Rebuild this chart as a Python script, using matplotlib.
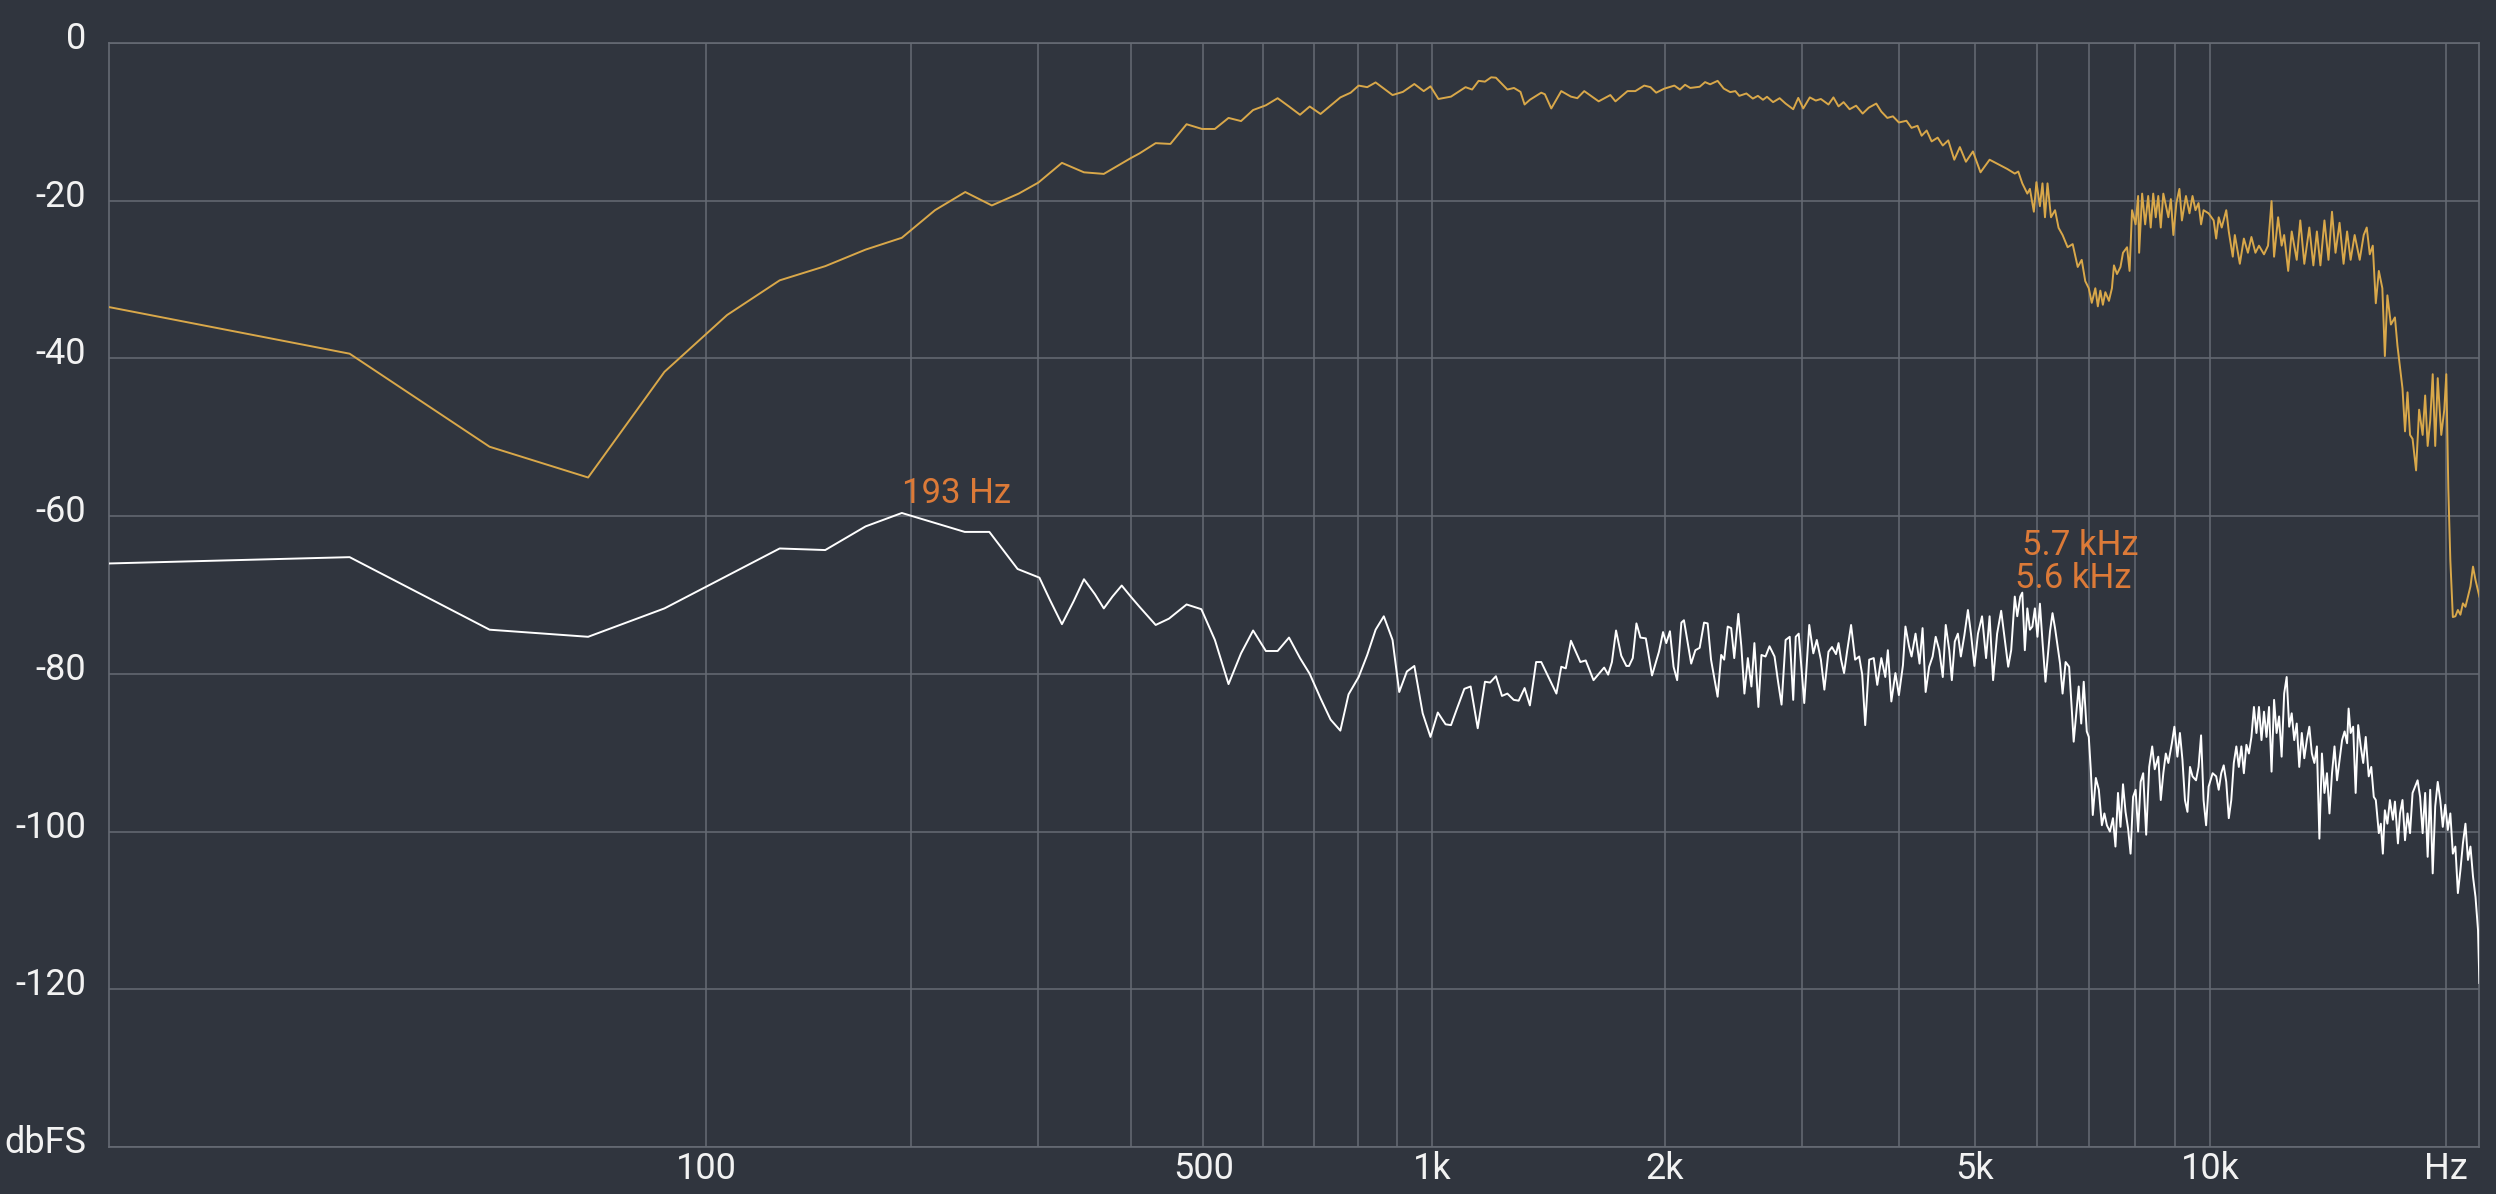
import numpy as np
import matplotlib
matplotlib.use("Agg")
import matplotlib.pyplot as plt
from matplotlib.transforms import ScaledTranslation


# --- data (Hz, dBFS) ---

gold_f = [0, 21.5, 43.1, 64.6, 86.1, 107.7, 129.2, 150.7, 172.3,
          194, 216, 238, 259, 282, 300, 323, 346, 368, 400, 411, 432, 452, 475, 498, 518, 540, 561,
          582, 605, 627, 649, 671, 691, 714, 758, 782, 801, 822, 843, 887, 915, 947, 974, 994, 1018,
          1057, 1104, 1126, 1148, 1170, 1192, 1209, 1251, 1276, 1301, 1317, 1338, 1384, 1399, 1426,
          1469, 1512, 1541, 1573, 1642, 1700, 1726, 1789, 1831, 1880, 1915, 1948, 1994, 2056, 2090,
          2122, 2155, 2216,
          2252, 2286, 2337, 2380, 2426, 2463, 2492, 2545, 2594, 2633, 2673, 2705, 2754, 2808, 2858,
          2923, 2967, 3011, 3070, 3125, 3172, 3244, 3292, 3342, 3392, 3453, 3520, 3589, 3654, 3736,
          3792, 3860, 3924, 3994, 4084, 4146, 4220, 4271, 4335, 4399, 4478, 4546, 4620, 4703, 4781,
          4867, 4969, 5081, 5219, 5336, 5497, 5621, 5679, 5747, 5833, 5877, 5920, 5946, 5991, 6053,
          6099, 6144, 6190, 6254, 6329, 6395, 6471, 6568, 6666, 6766, 6846, 6918, 6990, 7052, 7126,
          7179, 7232, 7286, 7340, 7417, 7483, 7528, 7595, 7674, 7731, 7824, 7882, 7940, 8023, 8083,
          8107, 8179, 8252, 8326, 8388, 8450, 8513, 8577, 8640, 8705, 8835, 8900, 8966, 9046, 9127,
          9195, 9305, 9402, 9486, 9570, 9656, 9728, 9800, 9946, 10095, 10170, 10246, 10337, 10476,
          10554, 10679, 10743, 10903, 11033, 11165, 11281, 11415, 11534, 11706, 11846, 11969, 12058,
          12202, 12329, 12421, 12569, 12700, 12889, 13024, 13179, 13375, 13535, 13676, 13818, 13983,
          14150, 14297, 14446, 14618, 14792, 14946, 15102, 15282, 15510, 15694, 15834, 15976, 16118,
          16262, 16407, 16578, 16701, 16825, 17000, 17203, 17331, 17460, 17589, 17720, 17851, 17984,
          18118, 18306, 18470, 18662, 18801, 18940, 19081, 19223, 19365, 19509, 19712, 19888, 20006,
          20125, 20245, 20395, 20546, 20699, 20853, 21007, 21164, 21321, 21479, 21639, 21799, 22050]
gold_db = [-33.5, -39.4, -51.2, -55.1, -41.7, -34.5, -30.1, -28.3, -26.2,
           -24.7, -21.2, -18.9, -20.6, -19.1, -17.7, -15.2, -16.4, -16.6, -14.6, -14.0, -12.7, -12.8,
           -10.3, -10.9, -10.9, -9.5, -9.9, -8.5, -7.9, -7.0, -8.05, -9.1, -8.05, -9.0, -6.9, -6.3,
           -5.4, -5.6, -5.0, -6.6, -6.2, -5.2, -6.1, -5.5, -7.1, -6.8, -5.6, -5.9, -4.8, -4.9, -4.35,
           -4.4, -5.9, -5.7, -6.2, -7.8, -7.2, -6.3, -6.5, -8.3, -6.1, -6.8, -7.0, -6.1, -7.4, -6.6,
           -7.4, -6.1, -6.1, -5.4, -5.6, -6.3, -5.8, -5.4, -5.9, -5.3, -5.7, -5.55,
           -4.96, -5.24, -4.8, -5.78, -6.23, -6.1, -6.7, -6.4, -7.05, -6.7, -7.2, -6.82, -7.5, -7.0,
           -7.68, -8.4, -6.96, -8.3, -6.9, -7.3, -7.1, -7.8, -6.9, -8.04, -7.5, -8.4, -7.95, -8.95,
           -8.2, -7.68, -8.7, -9.5, -9.3, -10.08, -9.86, -10.76, -10.5, -11.76, -11.1, -12.48, -12.0,
           -13.0, -12.35, -14.8, -13.2, -15.06, -13.75, -16.4, -14.8, -15.3, -15.97, -16.56, -16.3,
           -17.8, -19.1, -18.5, -20.3, -21.4, -17.65, -20.7, -17.8, -22.1, -17.8, -22.1, -21.2,
           -23.44, -24.35, -25.9, -25.5, -28.4, -27.5, -30.2, -31.1, -32.95, -31.1, -33.4, -31.4,
           -33.2, -31.6, -32.7, -31.1, -28.2, -29.3, -28.4, -26.6, -25.9, -28.9, -21.2, -23.0, -19.4,
           -26.6, -19.1, -23.0, -19.4, -23.4, -19.1, -22.1, -19.4, -23.4, -19.1, -22.1, -19.8, -24.35,
           -20.3, -18.5, -22.5, -19.4, -21.6, -19.4, -21.2, -20.3, -23.0, -21.2, -21.6, -22.5, -24.8,
           -22.1, -23.4, -21.2, -23.9, -27.1, -24.35, -28.0, -24.8, -26.6, -24.6, -26.6, -25.7, -26.8,
           -25.7, -20.05, -27.1, -22.1, -25.7, -24.35, -28.9, -23.9, -27.5, -22.5, -28.0, -23.4,
           -28.2, -23.9, -28.2, -22.5, -27.5, -21.4, -26.6, -22.8, -28.0, -23.9, -27.5, -24.35, -27.5,
           -24.35, -23.4, -26.8, -25.7, -33.0, -28.9, -31.1, -39.7, -32.0, -35.7, -34.8, -38.4, -41.1,
           -43.8, -49.25, -44.3, -49.7, -50.2, -54.2, -46.5, -49.7, -44.7, -51.1, -47.9, -42.0, -51.1,
           -42.5, -49.7, -46.5, -42.0, -56.5, -65.6, -72.8, -72.7, -71.9, -72.5, -71.06, -71.5, -70.2,
           -68.9, -66.4, -68.1, -70.2]

white_f = [0, 21.5, 43.1, 64.6, 86.1, 129.2, 150.7, 172.3,
           194, 237.6, 257, 281, 290, 301, 311, 323, 335, 346, 358, 368, 378, 389, 400, 411, 432, 450,
           475, 497, 518, 540, 561, 582, 605, 627, 649, 671, 691, 714, 736, 758, 777, 801, 822, 843,
           864, 887, 905, 926, 947, 971, 994, 1016, 1040, 1057, 1078, 1100, 1121, 1145, 1170, 1188,
           1209, 1231, 1251, 1275, 1294, 1317, 1338, 1363, 1384, 1417, 1448, 1469, 1489, 1512, 1555,
           1580, 1617, 1669, 1689, 1708, 1729, 1756, 1783, 1797, 1817, 1837, 1859, 1889, 1924, 1964,
           1988, 2007, 2029, 2051, 2073, 2099, 2115, 2161, 2188, 2216,
           2245, 2269, 2292, 2337, 2362, 2383, 2408, 2433, 2455, 2485, 2507, 2530, 2556, 2583, 2606,
           2637, 2661, 2693, 2725, 2766, 2795, 2824, 2858, 2893, 2923, 2945, 2971, 3020, 3065, 3102,
           3134, 3172, 3205, 3244, 3278, 3317, 3342, 3367, 3397, 3427, 3468, 3510, 3552, 3584, 3616,
           3659, 3708, 3747, 3792, 3837, 3866, 3906, 3953, 3994, 4042, 4072, 4115, 4146, 4195, 4245,
           4283, 4322, 4367, 4412, 4452, 4499, 4546, 4586, 4634, 4669, 4710, 4753, 4795, 4845, 4896,
           4940, 4991, 5043, 5104, 5165, 5219, 5273, 5336, 5400, 5464, 5513, 5562, 5621, 5662, 5713,
           5747, 5790, 5833, 5877, 5920, 5964, 6009, 6053, 6099, 6153, 6190, 6236, 6282, 6329, 6376,
           6423, 6471, 6529, 6597, 6646, 6686, 6745, 6786, 6836, 6887, 6949, 6990, 7032, 7073, 7137,
           7200, 7265, 7319, 7373, 7439, 7506, 7561, 7618, 7674, 7731, 7789, 7847, 7905, 7964, 8023,
           8083, 8143, 8204, 8277, 8351, 8425, 8488, 8577, 8640, 8705, 8769, 8835, 8927, 8993, 9073,
           9141, 9209, 9277, 9346, 9416, 9486, 9585, 9656, 9728, 9800, 9873, 9946, 10065, 10170,
           10246, 10322, 10398, 10476, 10554, 10632, 10711, 10791, 10871, 10952, 11033, 11115, 11198,
           11281, 11365, 11449, 11534, 11620, 11706, 11793, 11881, 11969, 12058, 12148, 12238, 12329,
           12421, 12513, 12606, 12700, 12794, 12889, 12985, 13082, 13179, 13277, 13375, 13475, 13575,
           13676, 13777, 13880, 13983, 14087, 14192, 14297, 14403, 14510, 14618, 14727, 14836, 14946,
           15013, 15102, 15214, 15327, 15441, 15556, 15671, 15788, 15928, 16047, 16166, 16262, 16407,
           16504, 16603, 16701, 16825, 16950, 17101, 17203, 17356, 17460, 17589, 17720, 17851, 17984,
           18118, 18252, 18388, 18524, 18662, 18801, 18940, 19081, 19223, 19365, 19509, 19654, 19800,
           19947, 20095, 20245, 20395, 20546, 20699, 20853, 21007, 21164, 21321, 21479, 21639, 21799,
           21961, 22050]
white_db = [-66.0, -65.2, -74.4, -75.3, -71.7, -64.1, -64.3, -61.3,
            -59.6, -62.0, -62.0, -66.7, -67.2, -67.8, -70.6, -73.7, -70.8, -68.0, -69.9, -71.7, -70.2,
            -68.8, -70.2, -71.5, -73.8, -73.0, -71.2, -71.8, -75.7, -81.3, -77.4, -74.5, -77.1, -77.1,
            -75.4, -78.0, -80.0, -83.1, -85.8, -87.2, -82.6, -80.4, -77.6, -74.4, -72.7, -75.7, -82.3,
            -79.7, -79.0, -85.0, -88.0, -84.9, -86.4, -86.5, -84.2, -81.9, -81.6, -86.9, -81.0, -81.1,
            -80.3, -82.8, -82.5, -83.3, -83.4, -81.8, -84.0, -78.5, -78.5, -80.6, -82.5, -79.1, -79.3,
            -75.8, -78.5, -78.3, -80.8, -79.2, -80.1, -78.5, -74.5, -77.7, -79.0, -79.0, -78.0, -73.6,
            -75.4, -75.5, -80.2, -77.2, -74.7, -76.1, -74.6, -79.1, -80.8, -73.5, -73.2, -78.7, -77.0,
            -76.7,
            -73.5, -73.6, -78.2, -82.9, -77.6, -78.2, -74.0, -74.2, -78.0, -72.4, -76.5, -82.5, -78.0,
            -81.6, -76.1, -84.2, -77.6, -77.8, -76.5, -77.8, -81.0, -83.9, -75.7, -75.3, -83.3, -75.3,
            -74.9, -83.7, -73.8, -77.4, -75.7, -78.2, -82.0, -77.2, -76.6, -77.5, -76.1, -78.2, -79.9,
            -77.2, -73.8, -78.2, -77.8, -80.1, -86.5, -78.2, -78.0, -81.4, -78.0, -80.4, -77.0, -83.5,
            -79.9, -82.7, -78.9, -74.0, -76.5, -77.8, -74.9, -78.7, -74.2, -82.3, -79.1, -77.8, -75.3,
            -77.0, -80.4, -73.8, -77.0, -80.8, -75.9, -74.9, -77.8, -75.1, -71.9, -74.9, -79.0, -74.9,
            -72.7, -78.0, -72.7, -80.8, -74.9, -72.0, -76.1, -79.1, -77.0, -70.2, -72.7, -70.2, -69.7,
            -77.0, -71.7, -74.4, -74.0, -71.7, -75.3, -71.1, -75.9, -81.0, -78.2, -74.6, -72.3, -74.2,
            -76.5, -78.7, -82.5, -78.5, -79.1, -84.2, -88.6, -84.4, -81.6, -86.3, -81.0, -87.3, -88.0,
            -92.2, -97.9, -93.2, -94.7, -99.2, -97.7, -99.2, -100.0, -98.3, -101.9, -95.1, -99.4, -94.0,
            -97.5, -99.6, -102.8, -95.6, -94.7, -100.0, -93.7, -92.6, -100.4, -91.8, -89.2, -92.1,
            -90.5, -96.0, -92.6, -90.1, -91.3, -88.8, -86.7, -90.5, -87.5, -90.9, -96.0, -97.5, -91.8,
            -93.0, -93.5, -91.8, -87.8, -96.0, -99.2, -94.3, -92.6, -93.0, -94.7, -92.6, -91.6, -93.7,
            -98.3, -96.0, -91.3, -89.2, -91.8, -89.2, -92.6, -89.0, -90.1, -88.0, -84.2, -87.5, -84.2,
            -88.4, -84.8, -88.0, -84.2, -92.4, -83.3, -87.5, -85.4, -90.5, -82.5, -80.4, -86.7, -85.0,
            -88.4, -86.3, -91.8, -87.5, -90.7, -88.4, -86.7, -90.1, -91.3, -89.2, -100.9, -90.1, -95.1,
            -92.6, -97.7, -92.6, -89.2, -93.5, -90.9, -88.4, -87.3, -88.8, -84.4, -87.5, -86.7, -95.1,
            -86.5, -89.2, -91.3, -88.0, -93.0, -91.8, -95.6, -96.0, -100.2, -99.0, -102.8, -97.3, -99.0,
            -96.0, -98.5, -96.2, -101.5, -97.7, -96.0, -101.1, -97.7, -100.2, -95.1, -94.3, -93.5,
            -95.6, -100.2, -95.1, -103.2, -94.7, -105.3, -96.8, -93.7, -96.0, -99.4, -96.6, -99.8,
            -97.7, -102.8, -101.9, -107.8, -104.9, -101.5, -99.0, -103.6, -101.9, -105.7, -108.3,
            -112.5, -119.2]

# peak markers
peak_f = [193.8, 5621, 5747]
peak_db = [-59.6, -70.2, -69.7]
peak_txt = ["193 Hz", "5.6 kHz", "5.7 kHz"]
peak_dy = [7, 6, 27]   # points above the peak

xticks = [100, 500, 1000, 2000, 5000, 10000, 20000]
xlabels = ["100", "500", "1k", "2k", "5k", "10k", "Hz"]
xminor = [200, 300, 400, 600, 700, 800, 900, 3000, 4000, 6000, 7000, 8000, 9000]
yticks = [-140, -120, -100, -80, -60, -40, -20, 0]
ylabels = ["dbFS", "-120", "-100", "-80", "-60", "-40", "-20", "0"]


bg = "#30353e"
gridc = "#666b74"
plt.rcParams["font.family"] = ["Roboto", "DejaVu Sans"]

fig = plt.figure(figsize=(24.96, 11.94), dpi=100)
fig.patch.set_facecolor(bg)
ax = fig.add_axes([109.5 / 2496, 1 - 1147 / 1194, (2479.4 - 109.5) / 2496, (1147 - 43) / 1194])
ax.set_facecolor(bg)


def fwd(f):
    return np.log10(np.asarray(f, dtype=float) + 21.0)


def inv(u):
    return 10 ** np.asarray(u, dtype=float) - 21.0


ax.set_xscale("function", functions=(fwd, inv))
ax.set_xlim(0, 22050)
ax.set_ylim(-140, 0)

ax.plot(gold_f, gold_db, color="#d9a84a", lw=1.4, zorder=3)
ax.plot(white_f, white_db, color="#ffffff", lw=1.4, zorder=3)

for f, d, t, dy in zip(peak_f, peak_db, peak_txt, peak_dy):
    ax.annotate(t, xy=(f, d), xytext=(0, dy), textcoords="offset points",
                ha="left", va="baseline", color="#dc7a38", fontsize=25)

ax.set_xticks(xticks)
ax.set_xticklabels(xlabels)
ax.set_xticks(xminor, minor=True)
ax.set_yticks(yticks)
ax.set_yticklabels(ylabels)

ax.grid(which="both", axis="x", color=gridc, lw=1.1)
ax.grid(which="major", axis="y", color=gridc, lw=1.1)
ax.set_axisbelow(True)
for s in ax.spines.values():
    s.set_color(gridc)
    s.set_linewidth(1.2)

ax.tick_params(which="both", length=0)
ax.tick_params(axis="x", pad=3, labelsize=26, colors="#f2f2f2")
ax.tick_params(axis="y", pad=17, labelsize=26, colors="#f2f2f2")

shift = ScaledTranslation(0, 8 / 100, fig.dpi_scale_trans)
for lab in ax.get_yticklabels():
    lab.set_transform(lab.get_transform() + shift)

fig.savefig("out.png", dpi=100, facecolor=bg)
